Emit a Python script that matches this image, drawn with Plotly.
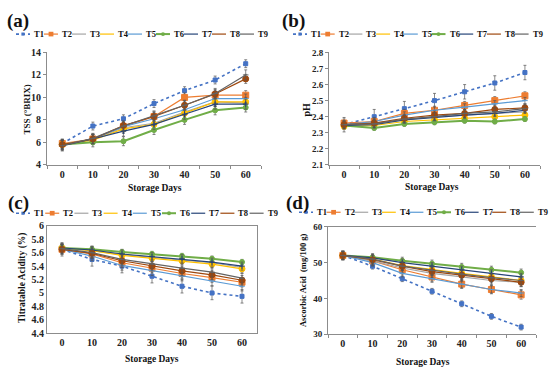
import plotly.graph_objects as go

W, H = 550, 379

days = ["0", "10", "20", "30", "40", "50", "60"]
names = ["T1", "T2", "T3", "T4", "T5", "T6", "T7", "T8", "T9"]
colors = ["#4472C4", "#ED7D31", "#A5A5A5", "#FFC000", "#5B9BD5",
          "#70AD47", "#264478", "#9E480E", "#636363"]

# (a) TSS (°BRIX)
tss = [
    [5.9, 7.45, 8.1, 9.45, 10.6, 11.55, 13.0],
    [5.9, 6.3, 7.4, 8.3, 10.0, 10.2, 10.2],
    [5.8, 6.3, 7.3, 7.7, 8.7, 9.6, 9.5],
    [5.8, 6.2, 7.2, 7.6, 8.6, 9.6, 9.6],
    [5.8, 6.3, 7.4, 8.1, 8.9, 9.9, 9.9],
    [5.8, 6.0, 6.1, 7.1, 8.0, 8.85, 9.1],
    [5.7, 6.3, 7.0, 7.6, 8.5, 9.4, 9.4],
    [5.8, 6.3, 7.5, 8.3, 9.3, 10.3, 11.65],
    [5.7, 6.35, 7.45, 8.35, 9.3, 10.35, 12.0],
]
tss_err = [0.35, 0.4, 0.4, 0.4, 0.4, 0.4, 0.45, 0.4, 0.45]

# (b) pH
ph = [
    [2.35, 2.40, 2.45, 2.50, 2.555, 2.61, 2.675],
    [2.36, 2.37, 2.42, 2.44, 2.47, 2.50, 2.53],
    [2.35, 2.36, 2.38, 2.40, 2.41, 2.42, 2.43],
    [2.34, 2.345, 2.37, 2.38, 2.39, 2.40, 2.41],
    [2.35, 2.37, 2.41, 2.44, 2.46, 2.48, 2.50],
    [2.345, 2.33, 2.355, 2.365, 2.375, 2.37, 2.385],
    [2.345, 2.35, 2.38, 2.395, 2.41, 2.42, 2.44],
    [2.35, 2.36, 2.39, 2.41, 2.42, 2.445, 2.455],
    [2.35, 2.355, 2.385, 2.40, 2.42, 2.43, 2.45],
]
ph_err = [0.045, 0.025, 0.02, 0.02, 0.02, 0.015, 0.02, 0.025, 0.025]

# (c) Titratable Acidity (%)
ta = [
    [5.65, 5.50, 5.40, 5.25, 5.10, 5.00, 4.95],
    [5.65, 5.58, 5.45, 5.37, 5.29, 5.23, 5.16],
    [5.67, 5.63, 5.57, 5.53, 5.50, 5.45, 5.38],
    [5.67, 5.63, 5.56, 5.52, 5.48, 5.43, 5.36],
    [5.65, 5.55, 5.41, 5.33, 5.25, 5.18, 5.10],
    [5.67, 5.65, 5.61, 5.58, 5.55, 5.51, 5.46],
    [5.67, 5.64, 5.58, 5.54, 5.51, 5.46, 5.40],
    [5.65, 5.59, 5.48, 5.40, 5.33, 5.27, 5.19],
    [5.66, 5.60, 5.50, 5.43, 5.37, 5.31, 5.22],
]
ta_err = [0.1, 0.07, 0.06, 0.06, 0.07, 0.04, 0.06, 0.07, 0.07]

# (d) Ascorbic Acid (mg/100 g)
aa = [
    [52.0, 49.0, 45.5, 42.0, 38.5, 35.0, 32.0],
    [52.0, 50.5, 48.0, 46.0, 44.0, 42.5, 41.0],
    [52.0, 50.5, 48.5, 47.0, 46.0, 45.0, 44.5],
    [52.0, 51.0, 49.2, 48.0, 47.0, 46.0, 45.0],
    [52.0, 50.0, 47.0, 45.5, 44.0, 42.5, 41.5],
    [52.0, 51.5, 50.5, 49.7, 48.8, 48.0, 47.2],
    [52.0, 51.3, 50.0, 49.0, 48.0, 47.0, 46.0],
    [52.0, 50.8, 49.0, 47.5, 46.5, 45.5, 44.5],
    [52.0, 51.0, 49.0, 47.8, 46.8, 45.8, 45.0],
]
aa_err = [0.8, 1.2, 1.2, 1.0, 1.0, 1.0, 1.0, 1.2, 1.2]

# styles
dashes = ["dot"] + ["solid"] * 8
widths = [1.6, 1.2, 1.2, 1.2, 1.2, 2.0, 1.2, 1.2, 1.2]
symbols = ["square", "square", "triangle-up", "circle", "line-ew",
           "circle", "cross-thin", "circle", "line-ew"]
msizes = [4, 6, 3, 0, 4, 5, 4, 0, 4]

FONT = "Liberation Serif, Times New Roman, serif"
AX = "#8c8c8c"

fig = go.Figure()
panels = [
    (tss, tss_err, "x", "y"),
    (ph, ph_err, "x2", "y2"),
    (ta, ta_err, "x3", "y3"),
    (aa, aa_err, "x4", "y4"),
]
for vals, errs, xa, ya in panels:
    for i in range(len(names)):
        fig.add_trace(go.Scatter(
            x=days, y=vals[i], xaxis=xa, yaxis=ya, name=names[i],
            mode="lines+markers", showlegend=False,
            line=dict(color=colors[i], width=widths[i], dash=dashes[i]),
            marker=dict(symbol=symbols[i], size=msizes[i], color=colors[i],
                        line=dict(color=colors[i], width=1)),
            error_y=dict(type="constant", value=errs[i], color="#555555",
                         thickness=0.7, width=1.5),
        ))


def px(x):
    return x / W


def py(y):
    return 1 - y / H


tickfont = dict(family=FONT, size=10, color="#222222", weight="bold")

def xax(dom, box=False, mirror=False):
    return dict(domain=[px(dom[0]), px(dom[1])], type="category",
                range=[-0.5, 6.5], showline=True, linecolor=AX, linewidth=1,
                mirror=True if (box or mirror) else False,
                ticks="" if box else "outside", tickson="boundaries",
                ticklen=3, tickcolor=AX, showgrid=False, zeroline=False,
                tickfont=tickfont, fixedrange=True)

def yax(dom, rng, dtick, anchor, box=False, size=10):
    tf = dict(tickfont)
    tf["size"] = size
    return dict(domain=[py(dom[1]), py(dom[0])], range=rng, dtick=dtick,
                showline=True, linecolor=AX, linewidth=1, mirror=box,
                ticks="" if box else "outside", ticklen=3, tickcolor=AX,
                showgrid=False, zeroline=False, tickfont=tf,
                anchor=anchor, fixedrange=True)

fig.update_layout(
    width=W, height=H, margin=dict(l=0, r=0, t=0, b=0),
    paper_bgcolor="white", plot_bgcolor="white",
    xaxis=dict(xax((47, 261)), anchor="y"),
    yaxis=yax((48, 164), [4, 14], 2, "x"),
    xaxis2=dict(xax((329, 540)), anchor="y2"),
    yaxis2=yax((48, 164), [2.1, 2.8], 0.1, "x2", size=9),
    xaxis3=dict(xax((47, 257), box=True), anchor="y3"),
    yaxis3=yax((227, 338), [4.4, 6.0], 0.2, "x3", box=True),
    xaxis4=dict(xax((328, 536), mirror=True), anchor="y4"),
    yaxis4=yax((228, 339), [30, 60], 10, "x4", size=9),
)


def text(t, x, y, size, xanchor="center", angle=0):
    fig.add_annotation(text="<b>" + t + "</b>", x=px(x), y=py(y),
                       xref="paper", yref="paper", showarrow=False,
                       xanchor=xanchor, yanchor="middle", textangle=angle,
                       font=dict(family=FONT, size=size, color="#111111"))


# panel letters
text("(a)", 5, 16, 19, "left")
text("(b)", 280, 15, 19, "left")
text("(c)", 6, 203, 19, "left")
text("(d)", 284, 203, 19, "left")

# axis titles
text("TSS (°BRIX)", 27, 107, 9, angle=-90)
text("pH", 307, 107, 10, angle=-90)
text("Titratable Acidity (%)", 22, 281, 9.5, angle=-90)
text("Ascorbic Acid&nbsp; (mg/100 g)", 303, 283, 8.5, angle=-90)
text("Storage Days", 155, 188, 9.5)
text("Storage Days", 432, 187, 9.5)
text("Storage Days", 152, 365, 9.5)
text("Storage Days", 423, 368, 9.5)


# compact legends (one row per panel)
def legend(x0, step, y, swatch=14, gap=2):
    for i, n in enumerate(names):
        lx = x0 + i * step
        sx0, sx1 = lx - gap - swatch, lx - gap
        fig.add_shape(type="line", xref="paper", yref="paper",
                      x0=px(sx0), x1=px(sx1), y0=py(y), y1=py(y),
                      line=dict(color=colors[i], width=widths[i], dash=dashes[i]))
        if symbols[i] in ("square", "circle") and msizes[i] > 0:
            r = msizes[i] / 2.0 * 0.8
            cx = (sx0 + sx1) / 2
            fig.add_shape(type="rect" if symbols[i] == "square" else "circle",
                          xref="paper", yref="paper",
                          x0=px(cx - r), x1=px(cx + r), y0=py(y + r), y1=py(y - r),
                          fillcolor=colors[i], line=dict(color=colors[i], width=0))
        fig.add_annotation(text="<b>" + n + "</b>", x=px(lx), y=py(y),
                           xref="paper", yref="paper", showarrow=False,
                           xanchor="left", yanchor="middle",
                           font=dict(family=FONT, size=8.5, color="#111111"))


legend(32, 28.0, 29)
legend(309, 27.7, 29)
legend(32, 29.2, 214)
legend(315, 27.6, 213)

fig.write_html("out.html",
               config={"displayModeBar": False},
               post_script="document.body.style.margin='0';"
                           "document.body.style.overflow='hidden';")
